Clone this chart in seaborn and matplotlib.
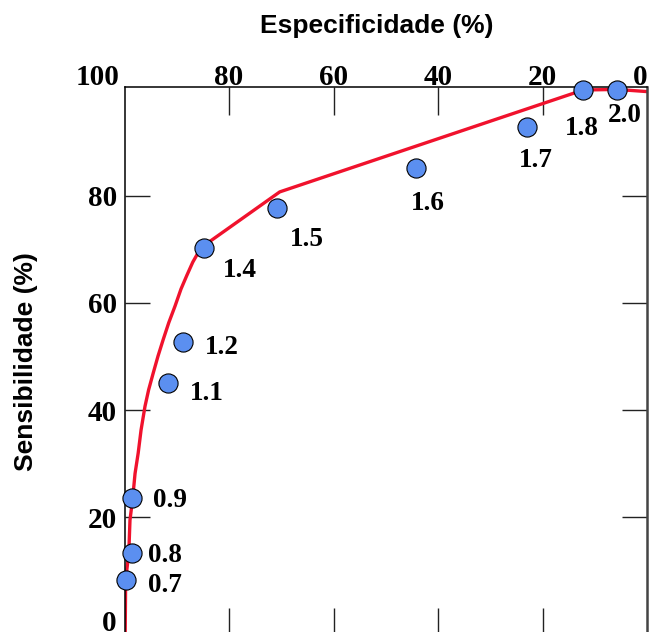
import matplotlib
matplotlib.use("Agg")
import matplotlib.pyplot as plt
import matplotlib.transforms as mtransforms
import seaborn as sns
import pandas as pd

# ---------------- data ----------------
cutoffs = ["0.7", "0.8", "0.9", "1.1", "1.2", "1.4", "1.5", "1.6", "1.7", "1.8", "2.0"]
especificidade = [99.8, 98.5, 98.5, 91.6, 88.8, 84.8, 70.9, 44.2, 22.9, 12.2, 5.7]
sensibilidade = [8.4, 13.3, 23.6, 45.0, 52.7, 70.2, 77.7, 85.2, 92.8, 99.7, 99.7]

curve_esp = [99.9, 99.8, 99.2, 98.97, 98.45, 98.0, 97.4, 96.85, 96.1, 95.4, 94.5,
             93.6, 92.6, 91.55, 90.35, 89.2, 88.1, 86.95, 85.9, 84.5, 70.3, 12.2, 5.7, 0.0]
curve_sens = [-3.0, 8.4, 13.3, 19.5, 23.6, 28.2, 32.0, 36.3, 40.7, 43.8, 47.0,
              50.1, 53.2, 56.3, 59.4, 62.6, 65.1, 67.6, 69.4, 70.9, 80.7, 99.7, 99.8, 99.4]

x_ticks = [100, 80, 60, 40, 20, 0]
y_ticks = [0, 20, 40, 60, 80]
x_title = "Especificidade (%)"
y_title = "Sensibilidade (%)"

# label placement (pixels relative to the marker: dx, baseline dy, alignment)
label_offsets = [(22.6, -12.7, "left"), (16, -8.4, "left"), (20.4, -8.4, "left"),
                 (21, -17, "left"), (21.7, -12.3, "left"), (18.7, -29, "left"),
                 (13.3, -37.7, "left"), (11.5, -42, "center"), (8.5, -40, "center"),
                 (-1.3, -45, "center"), (7.7, -31.6, "center")]

# ---------------- style ----------------
sns.set_theme(style="white")
plt.rcParams["font.family"] = ["Liberation Serif", "DejaVu Serif"]
plt.rcParams["font.weight"] = "bold"

W, H = 651, 632
fig = plt.figure(figsize=(W / 100, H / 100), dpi=100)
fig.patch.set_facecolor("white")
ax = fig.add_axes([124.6 / W, -4 / H, 522.4 / W, 548.7 / H])
ax.set_facecolor("white")

df_curve = pd.DataFrame({"esp": curve_esp, "sens": curve_sens})
df_pts = pd.DataFrame({"esp": especificidade, "sens": sensibilidade, "corte": cutoffs})

sns.lineplot(data=df_curve, x="esp", y="sens", sort=False, estimator=None,
             color="#f0122d", linewidth=2.4, ax=ax, zorder=2)
sns.scatterplot(data=df_pts, x="esp", y="sens", s=190, color="#5b8ff0",
                edgecolor="black", linewidth=0.8, ax=ax, zorder=4, clip_on=False)

ax.set_xlim(100, 0)
ax.set_ylim(-2.1, 100.2)
ax.set_xlabel("")
ax.set_ylabel("")

ax.set_xticks(x_ticks)
ax.set_xticklabels([str(v) for v in x_ticks])
ax.set_yticks(y_ticks)
ax.set_yticklabels([str(v) for v in y_ticks])

ax.tick_params(axis="x", direction="in", length=20, width=1.0, color="#222222",
               top=True, bottom=True, labeltop=True, labelbottom=False,
               labelsize=21, pad=-2.8, labelcolor="black")
ax.tick_params(axis="y", direction="in", length=18, width=1.0, color="#222222",
               left=True, right=True, labelleft=True, labelright=False,
               labelsize=21, pad=5.5, labelcolor="black")

for side, sp in ax.spines.items():
    sp.set_visible(True)
    sp.set_color("black")
    sp.set_linewidth(1.1)
ax.spines["right"].set_color("#444444")
ax.spines["right"].set_linewidth(1.8)

# end labels of top axis
for t, v in zip(ax.xaxis.get_major_ticks(), x_ticks):
    if v == 100:
        t.label2.set_ha("right")
        t.label2.set_transform(t.label2.get_transform() +
                               mtransforms.ScaledTranslation(-5 / 100, 0, fig.dpi_scale_trans))
        t.tick1line.set_visible(False)
        t.tick2line.set_visible(False)
    if v == 0:
        t.label2.set_ha("right")
        t.tick1line.set_visible(False)
        t.tick2line.set_visible(False)

# no tick marks at y = 0 (label only, nudged up so it stays inside the picture)
for t, v in zip(ax.yaxis.get_major_ticks(), y_ticks):
    if v == 0:
        t.tick1line.set_visible(False)
        t.tick2line.set_visible(False)
        t.label1.set_transform(t.label1.get_transform() +
                               mtransforms.ScaledTranslation(0, 4 / 100, fig.dpi_scale_trans))

# point labels
for lab, xe, ys, (dx, dy, ha) in zip(cutoffs, especificidade, sensibilidade, label_offsets):
    ax.annotate(lab, xy=(xe, ys), xytext=(dx, dy), textcoords="offset pixels",
                ha=ha, va="baseline", fontsize=19.5, fontweight="bold",
                family=["Liberation Serif", "DejaVu Serif"], color="black",
                zorder=5, annotation_clip=False)

# axis titles
fig.text(377 / W, 1 - 33.3 / H, x_title, ha="center", va="baseline",
         fontsize=19, fontweight="bold", family=["Liberation Sans", "DejaVu Sans"],
         color="black")
fig.text(33 / W, 1 - 362 / H, y_title, ha="center", va="baseline", rotation=90,
         rotation_mode="anchor", fontsize=19, fontweight="bold",
         family=["Liberation Sans", "DejaVu Sans"], color="black")

fig.savefig("out.png", dpi=100)
